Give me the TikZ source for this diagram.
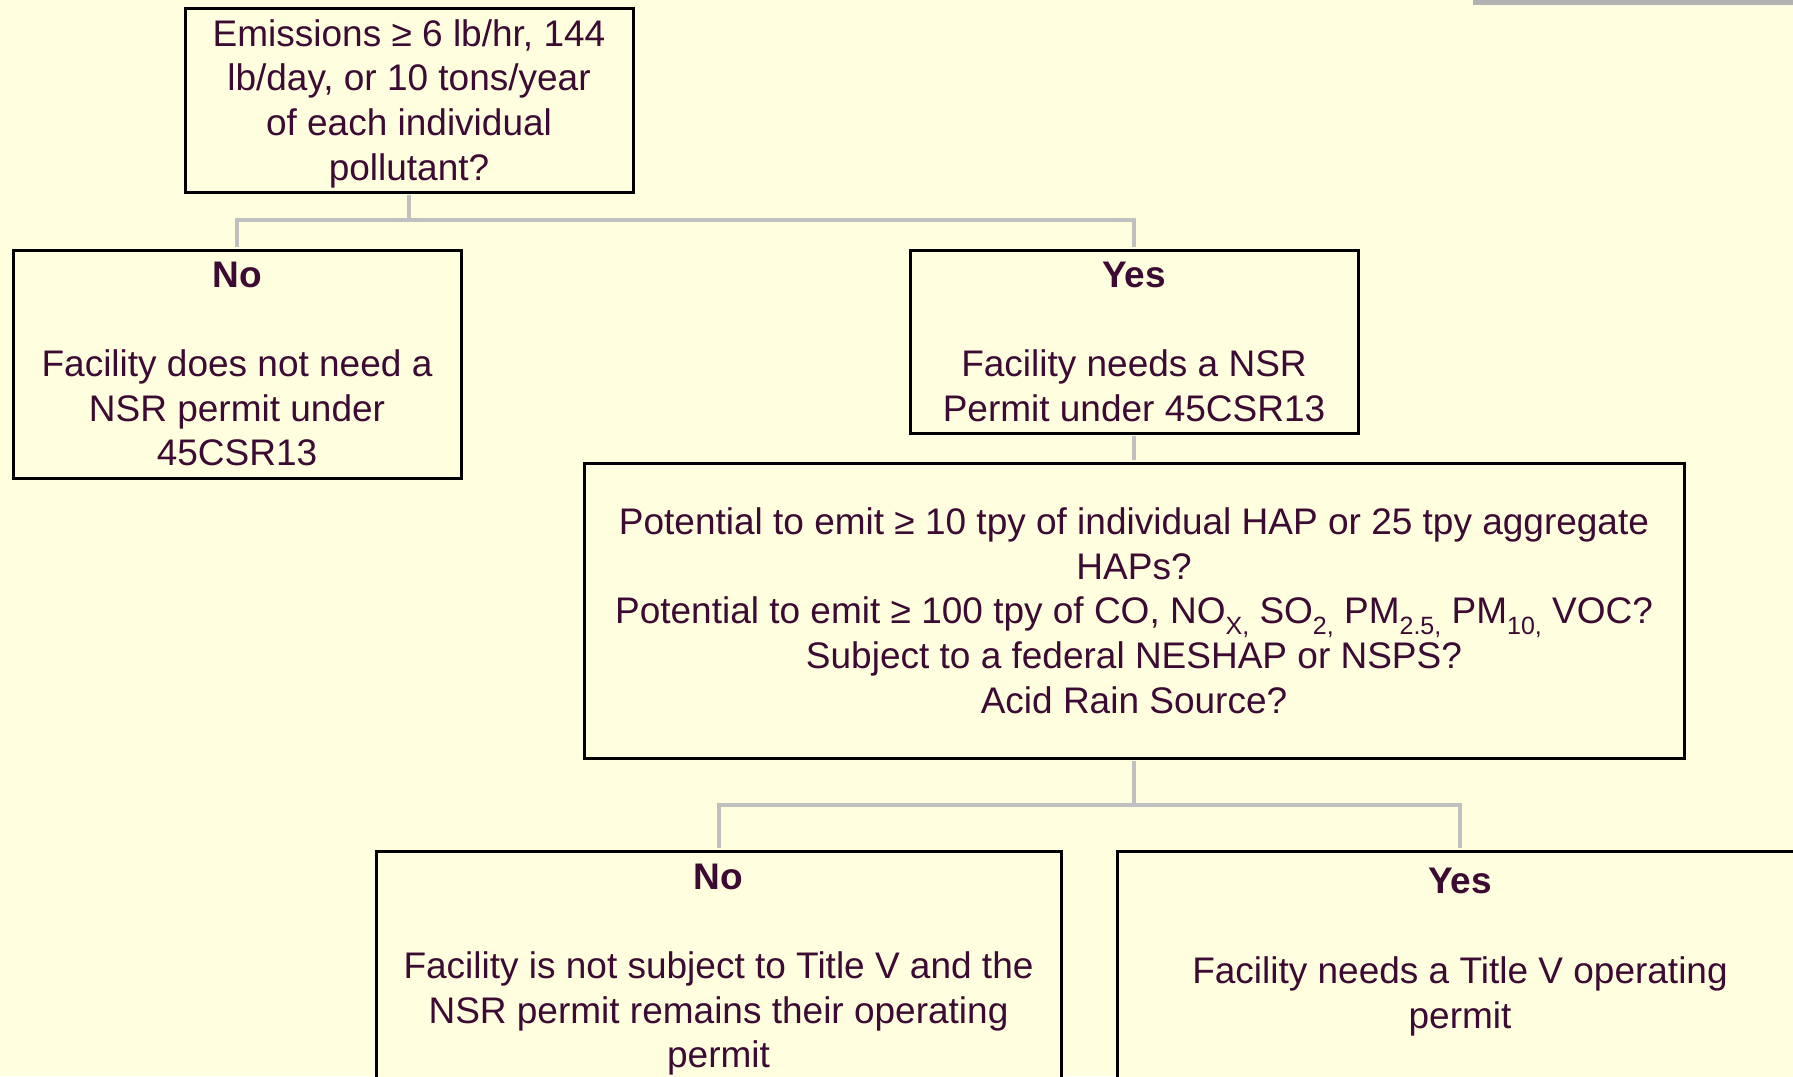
\documentclass[tikz,border=0pt]{standalone}
\usepackage{fontspec}
\setmainfont{Liberation Sans}
\usetikzlibrary{positioning}
\definecolor{chartcream}{RGB}{255,255,224}
\definecolor{chartplum}{RGB}{60,10,50}
\definecolor{chartgray}{RGB}{192,192,192}
\definecolor{chartbar}{RGB}{178,178,178}
\newcommand{\chem}[1]{\raisebox{-0.55ex}{\fontsize{25}{25}\selectfont #1}}
\tikzset{
    box/.style={rectangle, draw=black, line width=3pt, fill=chartcream, text=chartplum, align=center, inner sep=0pt, font=\fontsize{37}{44.7}\selectfont},
    link/.style={draw=chartgray, line width=4pt, shorten >=1.5pt, shorten <=1.5pt}
}

\begin{document}
\begin{tikzpicture}[x=1pt, y=-1pt]
    \fill[chartcream] (0,0) rectangle (1793,1076);
    \useasboundingbox (0,0) rectangle (1793,1076);
    \clip (0,0) rectangle (1793,1076);
    \fill[chartbar] (1473,0) rectangle (1793,5);

    % NSR question and answers
    \node[box, minimum width=448pt, minimum height=184pt] (emis) at (409,100)
        {\rule{0pt}{34pt}Emissions ≥ 6 lb/hr, 144\\lb/day, or 10 tons/year\\of each individual\\pollutant?};
    \node[box, minimum width=448pt, minimum height=228pt] (nsrno) at (237,364)
        {\textbf{No}\\[44.7pt]Facility does not need a\\NSR permit under\\45CSR13};
    \node[box, minimum width=448pt, minimum height=183pt] (nsryes) at (1134,341.5)
        {\textbf{Yes}\\[44.7pt]Facility needs a NSR\\Permit under 45CSR13};

    % Title V question and answers
    \node[box, minimum width=1100pt, minimum height=295pt] (hapq) at (1134,610.5)
        {Potential to emit ≥ 10 tpy of individual HAP or 25 tpy aggregate\\HAPs?\\
         Potential to emit ≥ 100 tpy of CO, NO\chem{X,} SO\chem{2,} PM\chem{2.5,} PM\chem{10,} VOC?\\
         Subject to a federal NESHAP or NSPS?\\Acid Rain Source?};
    \node[box, minimum width=685pt, minimum height=237pt] (tvno) at (718.5,969.5)
        {\textbf{No}\\[44.7pt]Facility is not subject to Title V and the\\NSR permit remains their operating\\permit};
    \node[box, minimum width=686pt, minimum height=284pt] (tvyes) at (1460,993)
        {\textbf{Yes}\\[44.7pt]Facility needs a Title V operating\\permit\\[44.7pt]\mbox{}};

    % Connectors
    \coordinate (split1) at (409,220);
    \coordinate (split2) at (1134,805);
    \draw[link] (emis.south) -- (split1) -| (nsrno.north);
    \draw[link] (split1) -| (nsryes.north);
    \draw[link] (nsryes.south) -- (hapq.north);
    \draw[link] (hapq.south) -- (split2) -| (tvno.north);
    \draw[link] (split2) -| (tvyes.north);
\end{tikzpicture}
\end{document}
